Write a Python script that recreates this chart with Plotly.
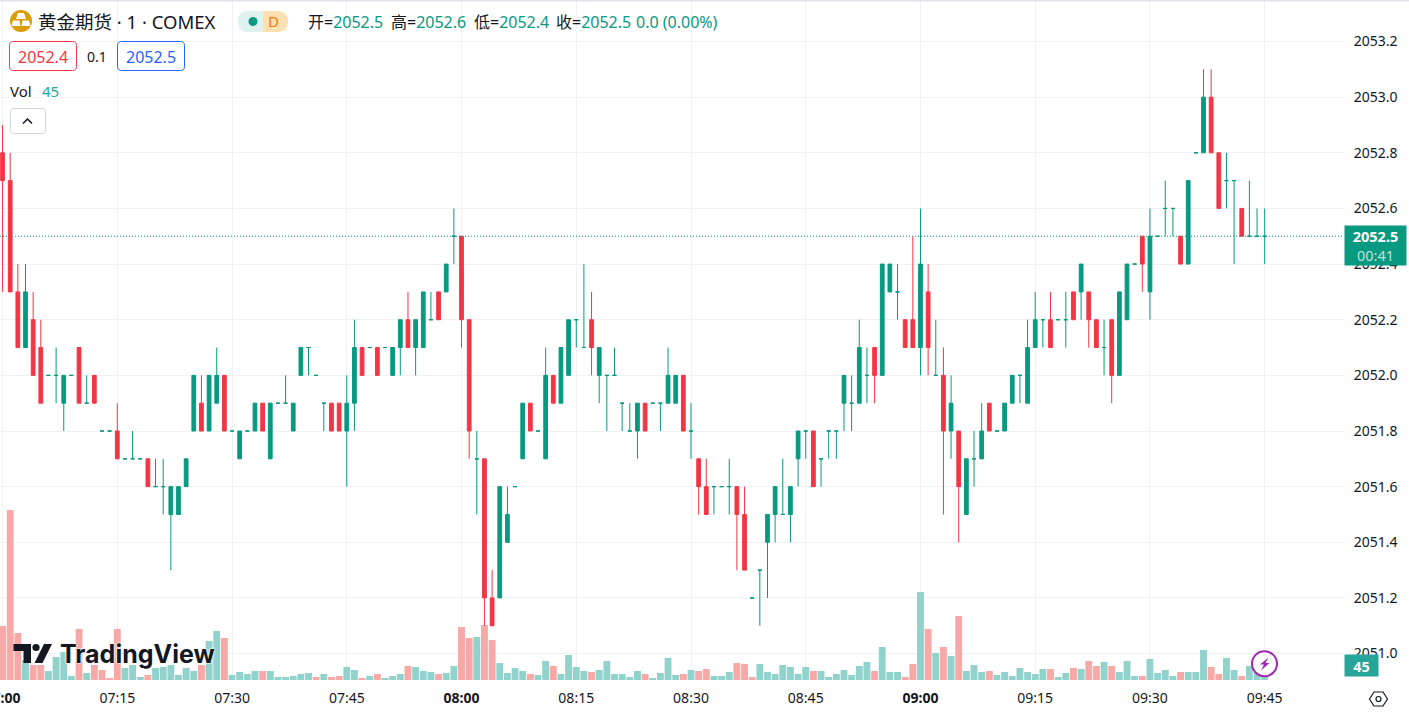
import pandas as pd
import plotly.graph_objects as go

# 1 minute bars, 07:00 - 09:45
open_ = [
    2052.8,2052.7,2052.3,2052.1,2052.2,2052.1,2052.0,2052.0,2051.9,2052.0,
    2052.1,2051.9,2052.0,2051.8,2051.8,2051.8,2051.7,2051.7,2051.7,2051.7,
    2051.6,2051.6,2051.5,2051.5,2051.6,2051.8,2051.9,2051.8,2051.9,2052.0,
    2051.8,2051.7,2051.8,2051.8,2051.9,2051.7,2051.9,2051.9,2051.8,2052.0,
    2052.1,2052.0,2051.9,2051.9,2051.9,2051.8,2051.9,2052.1,2052.1,2052.1,
    2052.1,2052.0,2052.1,2052.2,2052.1,2052.1,2052.2,2052.3,2052.3,2052.5,
    2052.5,2052.2,2051.7,2051.7,2051.2,2051.2,2051.4,2051.6,2051.7,2051.9,
    2051.8,2051.7,2052.0,2051.9,2052.0,2052.2,2052.1,2052.2,2052.0,2052.0,
    2052.0,2051.9,2051.8,2051.8,2051.9,2051.9,2051.9,2051.9,2051.9,2052.0,
    2051.8,2051.7,2051.6,2051.6,2051.6,2051.6,2051.6,2051.5,2051.2,2051.3,
    2051.4,2051.5,2051.5,2051.5,2051.7,2051.8,2051.8,2051.7,2051.8,2051.8,
    2051.9,2051.9,2051.9,2052.0,2052.1,2052.0,2052.3,2052.3,2052.2,2052.2,
    2052.1,2052.3,2052.0,2052.0,2051.8,2051.8,2051.5,2051.7,2051.7,2051.9,
    2051.8,2051.8,2051.9,2052.0,2051.9,2052.1,2052.2,2052.2,2052.2,2052.2,
    2052.3,2052.3,2052.3,2052.2,2052.1,2052.2,2052.0,2052.2,2052.4,2052.5,
    2052.3,2052.5,2052.6,2052.6,2052.5,2052.4,2052.8,2052.8,2053.0,2052.8,
    2052.7,2052.7,2052.6,2052.5,2052.5,2052.5,
]
high = [
    2052.9,2052.8,2052.4,2052.4,2052.3,2052.2,2052.0,2052.1,2052.0,2052.0,
    2052.1,2052.0,2052.0,2051.8,2051.8,2051.9,2051.7,2051.8,2051.7,2051.7,
    2051.7,2051.7,2051.6,2051.6,2051.7,2052.0,2052.0,2052.0,2052.1,2052.0,
    2051.8,2051.8,2051.8,2051.9,2051.9,2051.9,2051.9,2052.0,2051.9,2052.1,
    2052.1,2052.0,2051.9,2051.9,2051.9,2052.0,2052.2,2052.1,2052.1,2052.1,
    2052.1,2052.1,2052.2,2052.3,2052.2,2052.3,2052.3,2052.3,2052.4,2052.6,
    2052.5,2052.2,2051.8,2051.7,2051.3,2051.6,2051.6,2051.6,2051.9,2051.9,
    2051.8,2052.1,2052.0,2052.1,2052.2,2052.2,2052.4,2052.3,2052.1,2052.0,
    2052.1,2051.9,2051.9,2051.9,2051.9,2051.9,2051.9,2052.1,2052.0,2052.0,
    2051.9,2051.7,2051.7,2051.6,2051.6,2051.7,2051.6,2051.6,2051.2,2051.3,
    2051.5,2051.6,2051.7,2051.6,2051.8,2051.8,2051.8,2051.7,2051.8,2051.8,
    2052.0,2052.0,2052.2,2052.1,2052.1,2052.4,2052.4,2052.4,2052.2,2052.5,
    2052.6,2052.4,2052.2,2052.1,2052.0,2051.8,2051.7,2051.8,2051.9,2051.9,
    2051.8,2051.9,2052.0,2052.0,2052.2,2052.3,2052.2,2052.3,2052.2,2052.3,
    2052.3,2052.4,2052.3,2052.2,2052.2,2052.2,2052.3,2052.4,2052.4,2052.5,
    2052.6,2052.5,2052.7,2052.6,2052.5,2052.7,2052.8,2053.1,2053.1,2052.8,
    2052.8,2052.7,2052.6,2052.7,2052.6,2052.6,
]
low = [
    2052.3,2052.3,2052.1,2052.1,2052.0,2051.9,2052.0,2051.9,2051.8,2052.0,
    2051.9,2051.9,2051.9,2051.8,2051.8,2051.7,2051.7,2051.7,2051.7,2051.6,
    2051.6,2051.5,2051.3,2051.5,2051.6,2051.8,2051.8,2051.8,2051.9,2051.8,
    2051.8,2051.7,2051.8,2051.8,2051.8,2051.7,2051.9,2051.9,2051.8,2052.0,
    2052.0,2052.0,2051.8,2051.8,2051.8,2051.6,2051.8,2052.0,2052.1,2052.0,
    2052.1,2052.0,2052.0,2052.1,2052.0,2052.1,2052.2,2052.2,2052.3,2052.4,
    2052.1,2051.7,2051.5,2051.1,2051.1,2051.2,2051.4,2051.6,2051.7,2051.8,
    2051.8,2051.7,2051.9,2051.9,2052.0,2052.1,2052.1,2052.0,2051.9,2051.8,
    2052.0,2051.8,2051.8,2051.7,2051.8,2051.9,2051.8,2051.9,2051.9,2051.8,
    2051.7,2051.5,2051.5,2051.5,2051.6,2051.5,2051.3,2051.3,2051.2,2051.1,
    2051.2,2051.4,2051.5,2051.4,2051.6,2051.7,2051.6,2051.6,2051.7,2051.7,
    2051.8,2051.8,2051.9,2051.9,2051.9,2052.0,2052.3,2052.2,2052.1,2052.1,
    2052.0,2052.0,2052.0,2051.5,2051.7,2051.4,2051.5,2051.6,2051.7,2051.8,
    2051.8,2051.8,2051.9,2051.9,2051.9,2052.1,2052.1,2052.1,2052.2,2052.1,
    2052.2,2052.2,2052.1,2052.1,2052.0,2051.9,2052.0,2052.2,2052.4,2052.3,
    2052.2,2052.5,2052.5,2052.5,2052.4,2052.4,2052.8,2052.8,2052.8,2052.6,
    2052.6,2052.4,2052.5,2052.5,2052.5,2052.4,
]
close = [
    2052.7,2052.3,2052.1,2052.3,2052.0,2051.9,2052.0,2052.0,2052.0,2052.0,
    2051.9,2051.9,2051.9,2051.8,2051.8,2051.7,2051.7,2051.7,2051.7,2051.6,
    2051.6,2051.6,2051.6,2051.6,2051.7,2052.0,2051.8,2052.0,2052.0,2051.8,
    2051.8,2051.8,2051.8,2051.9,2051.8,2051.9,2051.9,2051.9,2051.9,2052.1,
    2052.1,2052.0,2051.9,2051.8,2051.8,2051.9,2052.1,2052.0,2052.1,2052.0,
    2052.1,2052.1,2052.2,2052.1,2052.2,2052.3,2052.2,2052.2,2052.4,2052.5,
    2052.2,2051.8,2051.7,2051.2,2051.1,2051.6,2051.5,2051.6,2051.9,2051.8,
    2051.8,2052.0,2051.9,2052.1,2052.2,2052.2,2052.1,2052.1,2052.1,2052.0,
    2052.0,2051.9,2051.8,2051.9,2051.8,2051.9,2051.9,2052.0,2052.0,2051.8,
    2051.8,2051.6,2051.5,2051.6,2051.6,2051.6,2051.5,2051.3,2051.2,2051.3,
    2051.5,2051.6,2051.5,2051.6,2051.8,2051.8,2051.6,2051.7,2051.8,2051.8,
    2052.0,2051.9,2052.1,2052.0,2052.0,2052.4,2052.4,2052.3,2052.1,2052.1,
    2052.4,2052.1,2052.0,2051.8,2051.9,2051.6,2051.7,2051.7,2051.8,2051.8,
    2051.8,2051.9,2052.0,2052.0,2052.1,2052.2,2052.2,2052.1,2052.2,2052.2,
    2052.2,2052.4,2052.2,2052.1,2052.1,2052.0,2052.3,2052.4,2052.4,2052.4,
    2052.5,2052.5,2052.6,2052.6,2052.4,2052.7,2052.8,2053.0,2052.8,2052.6,
    2052.7,2052.7,2052.5,2052.5,2052.5,2052.5,
]
volume = [
    486,1530,423,180,135,135,81,207,252,36,
    459,63,135,90,18,459,108,135,27,45,
    108,117,135,45,108,81,135,351,441,378,
    45,72,54,81,81,81,27,27,36,54,
    63,27,54,27,36,117,90,18,36,54,
    18,36,54,126,117,81,72,54,63,126,
    477,378,387,495,360,153,63,108,81,54,
    45,171,126,54,225,117,81,72,90,171,
    54,54,27,81,54,18,63,198,45,54,
    90,81,99,36,36,72,153,144,27,144,
    72,54,135,117,54,117,81,81,27,54,
    90,45,126,162,81,297,72,72,27,144,
    792,459,243,297,216,576,81,135,72,81,
    45,72,36,108,72,54,99,99,27,63,
    108,99,171,126,162,126,72,171,36,36,
    189,63,90,36,72,72,72,270,117,54,
    198,90,36,126,72,45,
]
# bars whose volume column is red
red_volume = [0,1,2,4,5,10,12,13,14,15,19,26,29,34,41,43,44,47,49,53,57,60,61,63,64,
              69,72,77,84,89,91,92,96,97,98,106,114,118,119,121,123,125,129,137,140,
              142,143,145,149,154,158,159,162]

price_ticks = [2051.0,2051.2,2051.4,2051.6,2051.8,2052.0,2052.2,2052.4,2052.6,2052.8,2053.0,2053.2]
time_ticks = ["07:00","07:15","07:30","07:45","08:00","08:15","08:30","08:45","09:00","09:15","09:30","09:45"]
bold_times = ["07:00","08:00","09:00"]

assert len(open_) == len(high) == len(low) == len(close) == len(volume) == 166

DAY = "2024-01-02 "
times = pd.date_range(DAY + "07:00", periods=len(close), freq="min")

UP = "#089981"
DOWN = "#F23645"
VOL_UP = "#92d2cc"
VOL_DOWN = "#f7a9a7"
TEXT = "#131722"
GRID = "#f0f1f3"
FONT = "Noto Sans, Noto Sans CJK SC, sans-serif"

W, H = 1409, 720
L, R, T, B = 0, 65, 2, 40
PW, PH = W - L - R, H - T - B


# pixel position on the page -> paper coordinate
def px(x):
    return (x - L) / PW


def py(y):
    return 1 - (y - T) / PH


def path(points, closed=True):
    s = "M " + " L ".join(f"{px(x):.5f},{py(y):.5f}" for x, y in points)
    return s + (" Z" if closed else "")


def round_rect(x0, y0, x1, y1, rl, rr):
    p = lambda x, y: f"{px(x):.5f},{py(y):.5f}"
    return (f"M {p(x0 + rl, y0)} L {p(x1 - rr, y0)} Q {p(x1, y0)} {p(x1, y0 + rr)} "
            f"L {p(x1, y1 - rr)} Q {p(x1, y1)} {p(x1 - rr, y1)} L {p(x0 + rl, y1)} "
            f"Q {p(x0, y1)} {p(x0, y1 - rl)} L {p(x0, y0 + rl)} Q {p(x0, y0)} {p(x0 + rl, y0)} Z")


def shape_path(d, fill="rgba(0,0,0,0)", line="rgba(0,0,0,0)", width=0):
    return dict(type="path", xref="paper", yref="paper", path=d, fillcolor=fill,
                line=dict(color=line, width=width), layer="above")


def circle(cx, cy, r, fill, line="rgba(0,0,0,0)", width=0):
    return dict(type="circle", xref="paper", yref="paper", x0=px(cx - r), x1=px(cx + r),
                y0=py(cy + r), y1=py(cy - r), fillcolor=fill,
                line=dict(color=line, width=width), layer="above")


def note(x, y, text, color=TEXT, size=16, anchor="left", **kw):
    if anchor == "left":
        x -= 1.5
    return dict(xref="paper", yref="paper", x=px(x), y=py(y), text=text, showarrow=False,
                xanchor=anchor, yanchor="middle", borderpad=0,
                font=dict(family=kw.pop("family", FONT), size=size, color=color, **kw.pop("font", {})),
                **kw)


fig = go.Figure()

fig.add_trace(go.Bar(
    x=times, y=volume, yaxis="y",
    marker=dict(color=[VOL_DOWN if i in red_volume else VOL_UP for i in range(len(volume))], line_width=0),
    hoverinfo="skip",
))

# doji bars stay green, so falling bars get their own trace
down = [i for i in range(len(close)) if close[i] < open_[i]]
rest = [i for i in range(len(close)) if close[i] >= open_[i]]
for idx, col in ((rest, UP), (down, DOWN)):
    fig.add_trace(go.Candlestick(
        x=[times[i] for i in idx],
        open=[open_[i] for i in idx],
        high=[high[i] for i in idx],
        low=[low[i] for i in idx],
        close=[close[i] for i in idx],
        yaxis="y2",
        increasing=dict(line=dict(color=col, width=1), fillcolor=col),
        decreasing=dict(line=dict(color=col, width=1), fillcolor=col),
        whiskerwidth=0,
        hoverinfo="skip",
    ))

last = close[-1]
shapes = [
    # last price line
    dict(type="line", xref="paper", yref="y2", x0=0, x1=1, y0=last, y1=last,
         line=dict(color=UP, width=1, dash="1px,2px"), layer="above"),
    # top border
    dict(type="rect", xref="paper", yref="paper", x0=0, x1=W / PW, y0=py(1.5), y1=py(0),
         fillcolor="#e0e3eb", line_width=0, layer="above"),
    # gold icon
    circle(21, 21, 11, "#d99e06"),
    shape_path(path([(18, 13), (24, 13), (26, 19), (16, 19)]), fill="#ffffff"),
    shape_path(path([(13, 20.5), (19.5, 20.5), (20.5, 26), (11.5, 26)]), fill="#ffffff"),
    shape_path(path([(22.5, 20.5), (29, 20.5), (30.5, 26), (21.5, 26)]), fill="#ffffff"),
    # status pill
    shape_path(round_rect(263, 11, 288, 32, 0, 10.5), fill="#ffe0b2"),
    shape_path(round_rect(238, 11, 263, 32, 10.5, 0), fill="#dff2ef"),
    circle(253, 21.5, 4.5, UP),
    # bid / ask boxes
    shape_path(round_rect(9.5, 41.5, 76.5, 70.5, 4, 4), fill="#ffffff", line=DOWN, width=1),
    shape_path(round_rect(117.5, 41.5, 184.5, 70.5, 4, 4), fill="#ffffff", line="#2962ff", width=1),
    # collapse button
    shape_path(round_rect(10.5, 108.5, 45.5, 133.5, 3, 3), fill="#ffffff", line="#d1d4dc", width=1),
    shape_path(path([(23, 123.5), (27.5, 119), (32, 123.5)], closed=False), line=TEXT, width=1.5),
    # TradingView mark
    shape_path(path([(13.5, 644), (31, 644), (31, 663), (23.5, 663), (23.5, 651), (13.5, 651)]), fill=TEXT),
    circle(36, 647.5, 3.6, TEXT),
    shape_path(path([(44, 644), (52, 644), (42.5, 663), (34.5, 663)]), fill=TEXT),
    # bolt badge
    circle(1264.5, 663.7, 12.5, "rgba(255,255,255,0.85)", line="#9c27b0", width=2),
    shape_path(path([(1268.5, 657.5), (1260, 664.5), (1264, 664.5), (1261, 670.5), (1269.5, 663),
                     (1265.5, 663)]), fill="#9c27b0"),
    # settings hexagon
    shape_path(path([(1369.5, 699), (1374, 692), (1383, 692), (1387.5, 699), (1383, 706), (1374, 706)]),
               line=TEXT, width=1.2),
    circle(1378.5, 699, 2.5, "rgba(0,0,0,0)", line=TEXT, width=1.2),
]

value = lambda v: f"<span style='color:{UP}'>{v}</span>"
chg = last - open_[-1]
annotations = [
    note(38, 22, "黄金期货 · 1 · COMEX", size=18.5),
    note(273, 21.5, "D", color="#f57c00", size=15, anchor="center"),
    note(308, 22, "开=" + value(f"{open_[-1]:.1f}")),
    note(391, 22, "高=" + value(f"{high[-1]:.1f}")),
    note(474, 22, "低=" + value(f"{low[-1]:.1f}")),
    note(556, 22, "收=" + value(f"{last:.1f}")),
    note(636, 22, value(f"{abs(chg):.1f} (0.00%)")),
    note(43, 57, f"{low[-1]:.1f}", color=DOWN, anchor="center"),
    note(96.5, 56, "0.1", size=14, anchor="center"),
    note(151, 57, f"{last:.1f}", color="#2962ff", anchor="center"),
    note(10, 91, "Vol", size=15, bgcolor="#ffffff"),
    note(42, 91, str(volume[-1]), color="#26a69a", size=15, bgcolor="#ffffff"),
    note(60, 654, "TradingView", size=25, family="Inter, sans-serif",
         font=dict(weight=700, shadow="0 0 2px #fff, 0 0 2px #fff, 0 0 2px #fff")),
    # price tag on the axis
    dict(xref="paper", yref="y2", x=1, y=last, yshift=-9, xanchor="left", yanchor="middle",
         width=61, height=39, bgcolor=UP, showarrow=False, borderpad=0, align="center",
         text=f"<b>{last:.1f}</b><br><span style='color:#b9e3db'>00:41</span>",
         font=dict(family=FONT, size=14.5, color="#ffffff")),
    # volume tag on the axis
    dict(xref="paper", yref="paper", x=1, y=py(665.5), xanchor="left", yanchor="middle",
         width=33, height=21, bgcolor="#26a69a", showarrow=False, borderpad=0, align="center",
         text=f"<b>{volume[-1]}</b>", font=dict(family=FONT, size=14.5, color="#ffffff")),
]

tick_dates = [DAY + t for t in time_ticks]
tick_text = [f"<b>{t}</b>" if t in bold_times else t for t in time_ticks]

fig.update_layout(
    width=W, height=H,
    margin=dict(l=L, r=R, t=T, b=B, autoexpand=False),
    paper_bgcolor="#ffffff", plot_bgcolor="#ffffff",
    showlegend=False, bargap=0.1, boxmode="overlay",
    font=dict(family=FONT, size=14, color=TEXT),
    xaxis=dict(
        type="date", range=[DAY + "06:59:40", DAY + "09:55:22"],
        tickmode="array", tickvals=tick_dates, ticktext=tick_text,
        ticklabeloverflow="allow",
        showgrid=True, gridcolor=GRID, gridwidth=1, zeroline=False, showline=False,
        ticks="outside", ticklen=5, tickcolor="rgba(0,0,0,0)",
        rangeslider=dict(visible=False), fixedrange=True,
        tickfont=dict(family=FONT, size=14, color=TEXT),
    ),
    yaxis=dict(range=[0, 6102], showgrid=False, zeroline=False, showticklabels=False,
               ticks="", showline=False, fixedrange=True),
    yaxis2=dict(
        overlaying="y", side="right", anchor="x",
        range=[2050.905, 2053.342],
        tickmode="array", tickvals=price_ticks, tickformat=".1f",
        showgrid=True, gridcolor=GRID, gridwidth=1, zeroline=False, showline=False,
        ticks="outside", ticklen=6, tickcolor="rgba(0,0,0,0)", fixedrange=True,
        tickfont=dict(family=FONT, size=14, color=TEXT),
    ),
    shapes=shapes,
    annotations=annotations,
)

fig.write_html("out.html", config=dict(displayModeBar=False),
               post_script="document.body.style.margin='0';document.documentElement.style.overflow='hidden';")
